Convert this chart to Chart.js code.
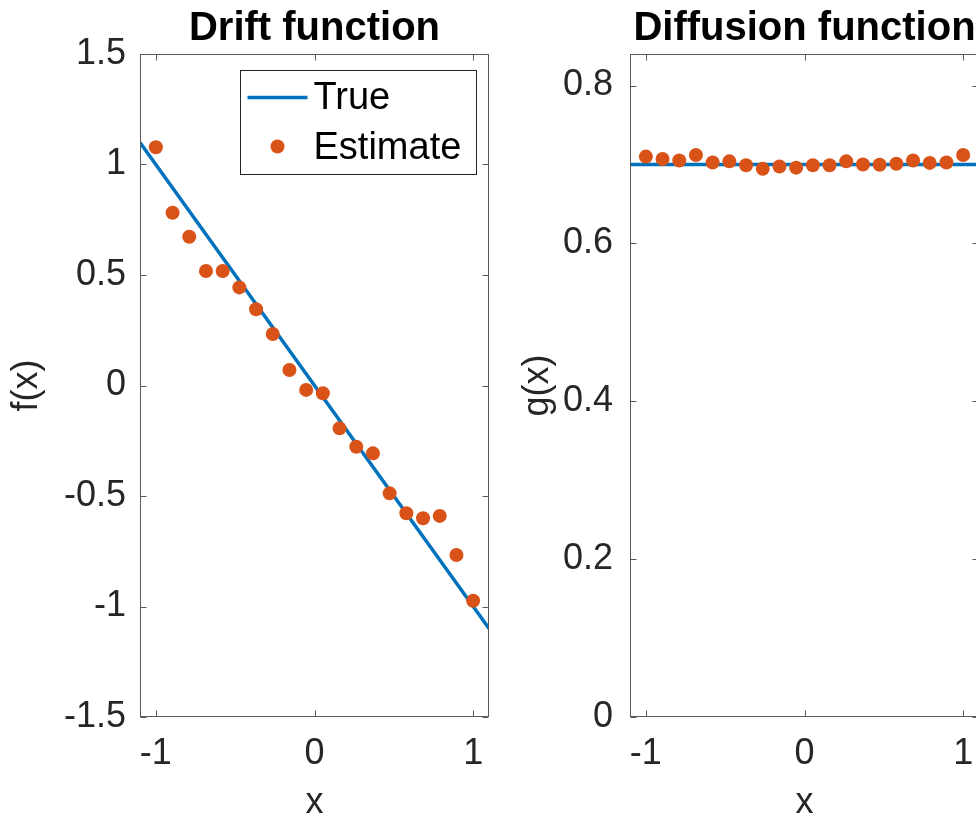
<!DOCTYPE html>
<html><head><meta charset="utf-8">
<script src="https://cdn.jsdelivr.net/npm/chart.js@4"></script>
<style>
html,body{margin:0;padding:0;background:#fff;overflow:hidden;width:976px;height:821px;}
#w1{position:absolute;left:0;top:0;width:500px;height:821px;}
#w2{position:absolute;left:500px;top:0;width:500px;height:821px;}
</style></head><body>
<div id="w1"><canvas id="c1" width="500" height="821"></canvas></div>
<div id="w2"><canvas id="c2" width="500" height="821"></canvas></div>
<script>
// ---- data ----
const xGrid = [-1, -0.8947, -0.7895, -0.6842, -0.5789, -0.4737, -0.3684, -0.2632, -0.1579, -0.0526,
               0.0526, 0.1579, 0.2632, 0.3684, 0.4737, 0.5789, 0.6842, 0.7895, 0.8947, 1];
const driftEstimate = [1.078, 0.782, 0.673, 0.518, 0.518, 0.444, 0.345, 0.233, 0.070, -0.020,
                       -0.035, -0.194, -0.277, -0.307, -0.488, -0.578, -0.601, -0.590, -0.767, -0.974];
const diffusionEstimate = [0.710, 0.707, 0.705, 0.712, 0.7025, 0.704, 0.699, 0.6945, 0.6975, 0.696,
                           0.699, 0.699, 0.704, 0.700, 0.6997, 0.701, 0.705, 0.702, 0.7025, 0.712];
const trueX = [-1.1, 1.1];
const driftTrue = [1.1, -1.1];
const diffusionTrue = [0.7, 0.7];
const xTicks = [-1, 0, 1];
const xTickLabels = ['-1', '0', '1'];
const driftTicks = [-1.5, -1, -0.5, 0, 0.5, 1, 1.5];
const driftTickLabels = ['-1.5', '-1', '-0.5', '0', '0.5', '1', '1.5'];
const diffTicks = [0, 0.2, 0.4, 0.6, 0.8];
const diffTickLabels = ['0', '0.2', '0.4', '0.6', '0.8'];
const seriesNames = ['True', 'Estimate'];

const FONT = '"Liberation Sans", Arial, Helvetica, sans-serif';
const BLUE = '#0072BD', ORANGE = '#D95319', TXT = '#262626';

const pts = (xs, ys) => xs.map((v, i) => ({x: v, y: ys[i]}));

const matlabBox = {
  id: 'matlabBox',
  afterDatasetsDraw(chart) {
    const {ctx, chartArea: a, scales: {x, y}} = chart;
    ctx.save();
    ctx.strokeStyle = '#5a5a5a';
    ctx.lineWidth = 1;
    const L = Math.round(a.left) + 0.5, R = Math.round(a.right) - 0.5,
          T = Math.round(a.top) + 0.5, B = Math.round(a.bottom) - 0.5;
    ctx.strokeRect(L, T, R - L, B - T);
    const tl = 6;
    ctx.beginPath();
    x.ticks.forEach(t => {
      const p = Math.round(x.getPixelForValue(t.value)) + 0.5;
      ctx.moveTo(p, B); ctx.lineTo(p, B - tl);
      ctx.moveTo(p, T); ctx.lineTo(p, T + tl);
    });
    y.ticks.forEach(t => {
      const p = Math.round(y.getPixelForValue(t.value)) + 0.5;
      ctx.moveTo(L, p); ctx.lineTo(L + tl, p);
      ctx.moveTo(R, p); ctx.lineTo(R - tl, p);
    });
    ctx.stroke();
    ctx.restore();
  }
};

const boxLegend = {
  id: 'boxLegend',
  afterDraw(chart, args, opts) {
    if (!opts || !opts.show) return;
    const {ctx, chartArea: a} = chart;
    const w = 236, h = 104;
    const left = Math.round(a.right - 13 - w) + 0.5, top = Math.round(a.top + 16) + 0.5;
    ctx.save();
    ctx.fillStyle = '#fff';
    ctx.fillRect(left, top, w, h);
    ctx.strokeStyle = '#262626';
    ctx.lineWidth = 1;
    ctx.strokeRect(left, top, w, h);
    const ds = chart.data.datasets;
    const rows = [top + 27, top + 77];
    ctx.font = '38px ' + FONT;
    ctx.textBaseline = 'middle';
    ctx.textAlign = 'left';
    ds.forEach((d, i) => {
      const cy = rows[i];
      if (d.showLine !== false) {
        ctx.strokeStyle = d.borderColor; ctx.lineWidth = d.borderWidth;
        ctx.beginPath(); ctx.moveTo(left + 7, cy); ctx.lineTo(left + 67, cy); ctx.stroke();
      } else {
        ctx.fillStyle = d.backgroundColor;
        ctx.beginPath(); ctx.arc(left + 37, cy - 1, d.pointRadius, 0, Math.PI * 2); ctx.fill();
      }
      ctx.fillStyle = '#000';
      ctx.fillText(d.label, left + 73, cy + 1);
    });
    ctx.restore();
  }
};

function makeChart(id, cfg) {
  return new Chart(document.getElementById(id), {
    type: 'scatter',
    data: {
      datasets: [
        {label: seriesNames[0], data: pts(trueX, cfg.trueY), showLine: true, borderColor: BLUE,
         backgroundColor: BLUE, borderWidth: 3.5, pointRadius: 0, order: 1},
        {label: seriesNames[1], data: pts(xGrid, cfg.est), showLine: false, borderColor: ORANGE,
         backgroundColor: ORANGE, borderWidth: 0, pointRadius: 7, pointHoverRadius: 7, order: 0}
      ]
    },
    options: {
      responsive: false,
      animation: false,
      events: [],
      layout: {padding: {left: 0, right: cfg.padRight, top: 0, bottom: 0}},
      plugins: {
        legend: {display: false},
        tooltip: {enabled: false},
        title: {display: true, text: cfg.title, fullSize: false, color: '#000',
                font: {family: FONT, size: 40, weight: 'bold', lineHeight: 1.2},
                padding: {top: 5, bottom: 1}},
        boxLegend: {show: cfg.legend}
      },
      scales: {
        x: {
          type: 'linear', min: -1.1, max: 1.1,
          afterBuildTicks: s => { s.ticks = xTicks.map(v => ({value: v})); },
          afterFit: s => { s.height = 104; },
          grid: {display: false, drawTicks: false}, border: {display: false},
          ticks: {color: TXT, font: {family: FONT, size: 36, lineHeight: 1.2}, padding: 15,
                  maxRotation: 0, autoSkip: false,
                  callback: v => xTickLabels[xTicks.indexOf(v)]},
          title: {display: true, text: 'x', color: TXT,
                  font: {family: FONT, size: 36, lineHeight: 1}, padding: {top: 0, bottom: 0}}
        },
        y: {
          type: 'linear', min: cfg.yMin, max: cfg.yMax,
          afterBuildTicks: s => { s.ticks = cfg.yTicks.map(v => ({value: v})); },
          afterFit: s => { s.width = cfg.yWidth; },
          grid: {display: false, drawTicks: false}, border: {display: false},
          ticks: {color: TXT, font: {family: FONT, size: 36}, padding: cfg.yTickPad, autoSkip: false,
                  callback: v => cfg.yLabels[cfg.yTicks.indexOf(v)]},
          title: {display: true, text: cfg.yTitle, color: TXT,
                  font: {family: FONT, size: 36, lineHeight: 1}, padding: {top: cfg.yTitlePad, bottom: 0}}
        }
      }
    },
    plugins: [matlabBox, boxLegend]
  });
}

makeChart('c1', {title: 'Drift function', trueY: driftTrue, est: driftEstimate, yMin: -1.5, yMax: 1.5,
  yTicks: driftTicks, yLabels: driftTickLabels, yTitle: 'f(x)', yWidth: 140, yTitlePad: 9, yTickPad: 14,
  padRight: 11, legend: true});
makeChart('c2', {title: 'Diffusion function', trueY: diffusionTrue, est: diffusionEstimate, yMin: 0, yMax: 0.84,
  yTicks: diffTicks, yLabels: diffTickLabels, yTitle: 'g(x)', yWidth: 130, yTitlePad: 20, yTickPad: 17,
  padRight: 21, legend: false});
</script>
</body></html>
